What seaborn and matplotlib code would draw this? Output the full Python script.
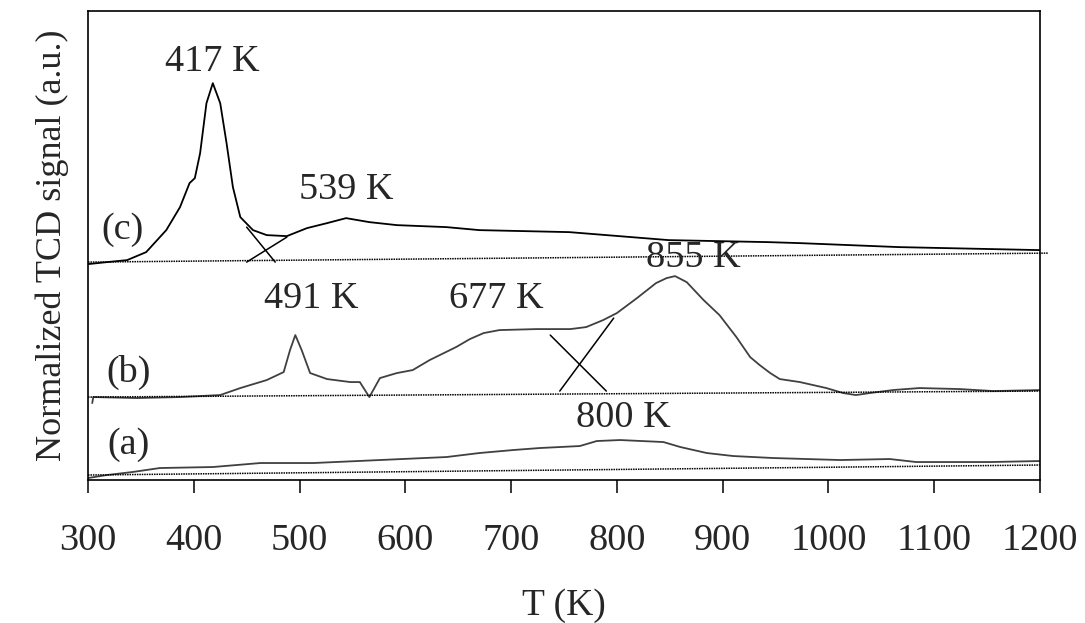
import numpy as np
import pandas as pd
import matplotlib
matplotlib.use("Agg")
import matplotlib.pyplot as plt
import seaborn as sns

# ------------------------------------------------------------
# data (T in K, signal in arbitrary units)
# ------------------------------------------------------------
T_a = [300, 318, 342, 368, 418, 463, 513, 576, 639, 670, 702, 727, 765, 781, 803,
       844, 860, 885, 910, 948, 1011, 1058, 1083, 1121, 1153, 1200]
sig_a = [2, 5, 8, 12, 13, 17, 17, 20, 23, 27, 30, 32, 34, 39, 40,
         38, 33, 27, 24, 22, 20, 21, 18, 18, 18, 19]

T_b = [304, 305, 346, 387, 425, 444, 469, 485, 491, 496, 502, 510, 526, 548, 557,
       566, 576, 592, 607, 623, 648, 661, 674, 689, 724, 756, 771, 787, 800, 819,
       837, 847, 855, 866, 882, 897, 913, 926, 935, 945, 954, 973, 998, 1014, 1026,
       1039, 1061, 1086, 1124, 1156, 1200]
sig_b = [77, 83, 82, 83, 85, 92, 100, 108, 130, 145, 130, 107, 101, 98, 98,
         83, 102, 107, 110, 120, 133, 141, 147, 150, 151, 151, 153, 160, 167, 182,
         197, 202, 204, 198, 180, 165, 143, 123, 115, 107, 101, 98, 92, 87, 85,
         87, 90, 92, 91, 89, 90]

T_c = [300, 318, 337, 355, 374, 387, 396, 401, 406, 412, 418, 425, 431, 437, 444,
       456, 469, 488, 507, 526, 544, 566, 592, 639, 670, 755, 849, 943, 973, 1067, 1200]
sig_c = [216, 218, 220, 228, 250, 273, 297, 302, 327, 377, 397, 377, 337, 293, 263,
         250, 245, 244, 252, 257, 262, 258, 255, 253, 250, 248, 240, 238, 237, 233, 230]

# baselines (dotted)
base_T = [300, 1200]
base_a = [5, 15]
base_b = [83, 89]
base_T_c = [300, 1208]
base_c = [218, 227]

# deconvolution guide lines: (T0, T1), (s0, s1)
guides_T = [(450, 477), (450, 488), (737, 790), (746, 797)]
guides_s = [(253, 218), (218, 243), (145, 89), (89, 162)]

# annotations
peak_txt = ["417 K", "539 K", "491 K", "677 K", "855 K", "800 K"]
peak_T = [418, 544, 511, 686, 872, 806]
peak_s = [418, 290, 181, 181, 222, 62]
trace_txt = ["(c)", "(b)", "(a)"]
trace_T = [333, 338, 338]
trace_s = [250, 108, 35]

# ------------------------------------------------------------
sns.set_style("white")
plt.rcParams["font.family"] = ["Liberation Serif", "DejaVu Serif"]

fig = plt.figure(figsize=(10.85, 6.23), dpi=100)
ax = fig.add_axes([0.0811, 0.2295, 0.8774, 0.7533])

traces = pd.concat([
    pd.DataFrame({"T": T_a, "signal": sig_a, "trace": "a"}),
    pd.DataFrame({"T": T_b, "signal": sig_b, "trace": "b"}),
    pd.DataFrame({"T": T_c, "signal": sig_c, "trace": "c"}),
])
sns.lineplot(data=traces, x="T", y="signal", hue="trace", units="trace",
             estimator=None, sort=False, ax=ax, legend=False, linewidth=1.3,
             palette={"a": "#404040", "b": "#404040", "c": "black"})

for bx, by in [(base_T, base_a), (base_T, base_b), (base_T_c, base_c)]:
    ax.plot(bx, by, color="black", linestyle=(0, (1, 0.6)), linewidth=1.1,
            clip_on=False)

for gx, gy in zip(guides_T, guides_s):
    ax.plot(gx, gy, color="black", linewidth=1.1)

for txt, x, y in zip(peak_txt, peak_T, peak_s):
    ax.text(x, y, txt, ha="center", va="center", fontsize=27.5)
for txt, x, y in zip(trace_txt, trace_T, trace_s):
    ax.text(x, y, txt, ha="center", va="center", fontsize=27.5)

ax.set_xlim(300, 1200)
ax.set_ylim(0, 469.5)
ax.set_xticks(range(300, 1201, 100))
ax.set_yticks([])
ax.tick_params(axis="x", direction="out", length=9.5, width=1.1, pad=22,
               labelsize=27.5, color="black", bottom=True)
ax.set_xlabel("T (K)", fontsize=27, labelpad=22)
ax.set_ylabel("Normalized TCD signal (a.u.)", fontsize=26, labelpad=14)

for s in ax.spines.values():
    s.set_visible(True)
    s.set_color("black")
    s.set_linewidth(1.2)

fig.savefig("out.png", dpi=100)
